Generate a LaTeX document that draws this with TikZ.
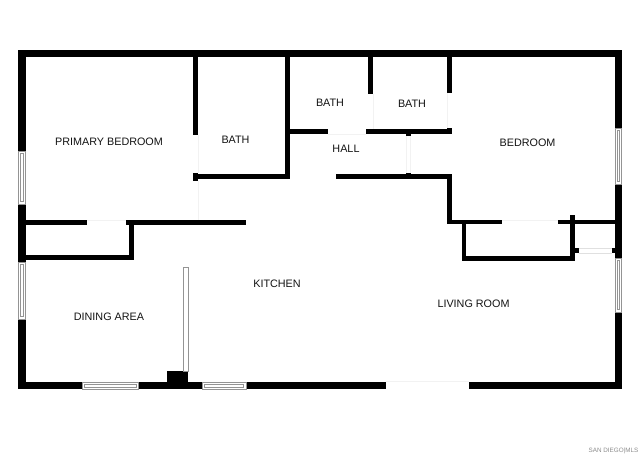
\documentclass[tikz,border=0pt]{standalone}
\usepackage{fontspec}
\setmainfont{Liberation Sans}
\tikzset{
	wall/.style={fill=black},
	pane/.style={draw=black!42, fill=white, line width=.5pt},
	sill/.style={draw=black!12, line width=.5pt},
	doorline/.style={draw=black!5, line width=.6pt},
	roomlabel/.style={font=\fontsize{10.8}{12}\selectfont, text=black!92, inner sep=0pt},
}
\begin{document}
\begin{tikzpicture}[x=1pt,y=-1pt]
	\useasboundingbox (0,0) rectangle (640,456);
	\fill[white] (0,0) rectangle (640,456);
	% outer walls
	\fill[wall] (18,49.5) rectangle (622,57);
	\fill[wall] (18,49.5) rectangle (25.5,151);
	\fill[wall] (18,204) rectangle (25.5,262);
	\fill[wall] (18,319) rectangle (25.5,389);
	\fill[wall] (18,381.7) rectangle (82,389);
	\fill[wall] (138.5,381.7) rectangle (202,389);
	\fill[wall] (246,381.7) rectangle (385.7,389);
	\fill[wall] (469.3,381.7) rectangle (622,389);
	\fill[wall] (614.7,49.5) rectangle (622,128);
	\fill[wall] (614.7,184) rectangle (622,258);
	\fill[wall] (614.7,312) rectangle (622,389);
	% primary bedroom and closet
	\fill[wall] (193,57) rectangle (198.3,134.5);
	\fill[wall] (193,172.8) rectangle (198.3,180.5);
	\fill[wall] (198,174) rectangle (290,179.3);
	\fill[wall] (285,57) rectangle (290,179.3);
	\fill[wall] (25,220) rectangle (87.3,224.5);
	\fill[wall] (125.5,220) rectangle (246,224.5);
	\fill[wall] (128.7,220) rectangle (133.7,260.3);
	\fill[wall] (25,255.3) rectangle (133.7,260.3);
	% baths and hall
	\fill[wall] (290,129.3) rectangle (327.7,134.3);
	\fill[wall] (366,129.3) rectangle (452.3,134.3);
	\fill[wall] (368.3,57) rectangle (373,94);
	\fill[wall] (447.3,57) rectangle (452.3,92.7);
	\fill[wall] (447.3,127.7) rectangle (452.3,134.3);
	\fill[wall] (405.7,134) rectangle (411,136);
	\fill[wall] (405.7,172.7) rectangle (411,175);
	\fill[wall] (335.7,174) rectangle (452.3,179.3);
	% bedroom and closet
	\fill[wall] (447.3,174) rectangle (452.3,224.3);
	\fill[wall] (447.3,220) rectangle (502.3,224.3);
	\fill[wall] (558,220) rectangle (615,224.3);
	\fill[wall] (461.7,220) rectangle (466.3,261);
	\fill[wall] (461.7,255.7) rectangle (575.3,261);
	\fill[wall] (570.3,214.7) rectangle (575.3,261);
	\fill[wall] (575,248) rectangle (578.6,253);
	\fill[wall] (612,248) rectangle (615,253);
	% column and glass partition
	\fill[wall] (166.7,371) rectangle (188.3,382);
	\draw[pane] (183.7,267.7) rectangle (188.3,371);
	% windows
	\foreach \ya/\yb in {151/204, 262/319} {
		\draw[pane] (18.3,\ya) rectangle (25.2,\yb);
		\draw[pane] (20.4,\ya+2.5) rectangle (23.1,\yb-2.5);
	}
	\foreach \ya/\yb in {128/184, 258/312} {
		\draw[pane] (615,\ya) rectangle (621.7,\yb);
		\draw[pane] (617.1,\ya+2.5) rectangle (619.6,\yb-2.5);
	}
	\foreach \xa/\xb in {82/138.5, 202/246} {
		\draw[pane] (\xa,382) rectangle (\xb,389);
		\draw[pane] (\xa+2.5,384.2) rectangle (\xb-2.5,386.8);
	}
	% door lines
	\draw[doorline] (87.3,220) -- (125.5,220);
	\draw[doorline] (198,134.5) -- (198,172.8);
	\draw[doorline] (198,180.5) -- (198,220);
	\draw[doorline] (327.7,134.3) -- (366,134.3);
	\draw[doorline] (373,94) -- (373,129.3);
	\draw[doorline] (447.3,92.7) -- (447.3,127.7);
	\draw[doorline] (406,136) -- (406,172.7);
	\draw[doorline] (410.5,136) -- (410.5,172.7);
	\draw[doorline] (502.3,220) -- (558,220);
	\draw[doorline] (385.7,381.7) -- (469.3,381.7);
	\draw[sill] (578.6,248) -- (612,248);
	\draw[sill] (578.6,253) -- (612,253);
	% labels
	\node[roomlabel] (primary) at (109,141.8) {PRIMARY BEDROOM};
	\node[roomlabel] (bathone) at (235.5,139.8) {BATH};
	\node[roomlabel] (bathtwo) at (330,102.3) {BATH};
	\node[roomlabel] (baththree) at (412,103.8) {BATH};
	\node[roomlabel] (hall) at (346,148.3) {HALL};
	\node[roomlabel] (bedroom) at (527.5,142.3) {BEDROOM};
	\node[roomlabel] (kitchen) at (277,283.3) {KITCHEN};
	\node[roomlabel] (living) at (473.5,303.3) {LIVING ROOM};
	\node[roomlabel] (dining) at (109,316.3) {DINING AREA};
	\node[font=\fontsize{6.3}{7}\selectfont, text=black!45, inner sep=0pt] (credit) at (613.5,451) {SAN DIEGO|MLS};
\end{tikzpicture}
\end{document}
